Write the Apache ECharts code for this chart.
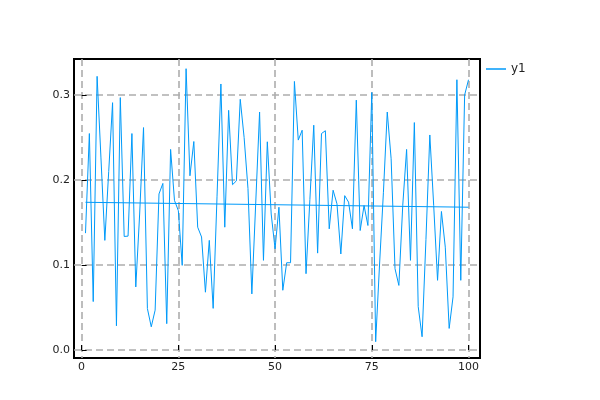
<!DOCTYPE html>
<html>
<head>
<meta charset="utf-8">
<script src="https://cdn.jsdelivr.net/npm/echarts@6/dist/echarts.min.js"></script>
<style>html,body{margin:0;padding:0;background:#fff;}#c{width:600px;height:400px;}</style>
</head>
<body>
<div id="c"></div>
<script>
const xValues = Array.from({length: 100}, (_, i) => i + 1);
const y1 = [
  0.1375, 0.2547, 0.057, 0.322, 0.226, 0.129, 0.21, 0.291, 0.0285, 0.297,
  0.1336, 0.134, 0.2547, 0.0742, 0.16, 0.2617, 0.0488, 0.0273, 0.0469, 0.1836,
  0.196, 0.031, 0.236, 0.176, 0.164, 0.0996, 0.331, 0.205, 0.2453, 0.1445,
  0.133, 0.068, 0.129, 0.049, 0.181, 0.313, 0.1445, 0.282, 0.1945, 0.199,
  0.295, 0.25, 0.19, 0.066, 0.173, 0.28, 0.1055, 0.245, 0.16, 0.119,
  0.168, 0.0703, 0.1027, 0.1027, 0.316, 0.247, 0.2586, 0.0898, 0.177, 0.2645,
  0.114, 0.2547, 0.258, 0.1426, 0.188, 0.172, 0.113, 0.1816, 0.174, 0.1426,
  0.294, 0.1406, 0.17, 0.1465, 0.303, 0.0098, 0.1, 0.185, 0.28, 0.225,
  0.0957, 0.076, 0.17, 0.236, 0.1055, 0.2676, 0.051, 0.0156, 0.13, 0.253,
  0.17, 0.082, 0.163, 0.121, 0.0254, 0.0625, 0.318, 0.082, 0.30, 0.318
];
const trendX = [1, 100];
const trendY = [0.1738, 0.168];
const xTicks = [0, 25, 50, 75, 100];
const yTicks = [0, 0.1, 0.2, 0.3];

const blue = '#009afa';
const gridLine = {show: true, lineStyle: {color: '#adadad', width: 1.6, type: [7, 4]}};
const font = 'DejaVu Sans';

const chart = echarts.init(document.getElementById('c'), null, {renderer: 'canvas'});
chart.setOption({
  animation: false,
  backgroundColor: '#fff',
  grid: {left: 74, top: 59, width: 406, height: 299, show: true, borderColor: '#000', borderWidth: 2, backgroundColor: 'transparent'},
  legend: {
    left: 481, top: 58, orient: 'vertical',
    data: [{name: 'y1', icon: 'rect'}],
    itemWidth: 20, itemHeight: 1.5, itemGap: 5,
    textStyle: {fontFamily: font, fontSize: 12, color: '#222'}
  },
  xAxis: {
    type: 'value', min: -1.97, max: 102.97,
    axisLine: {show: false},
    axisTick: {show: true, inside: true, length: 5, customValues: xTicks, lineStyle: {color: '#000', width: 1}},
    axisLabel: {customValues: xTicks, fontFamily: font, fontSize: 11, color: '#222', margin: 4},
    splitLine: gridLine
  },
  yAxis: {
    type: 'value', min: -0.0094, max: 0.3424,
    axisLine: {show: false},
    axisTick: {show: true, inside: true, length: 5, customValues: yTicks, lineStyle: {color: '#000', width: 1}},
    axisLabel: {customValues: yTicks, fontFamily: font, fontSize: 11, color: '#222', margin: 4,
      formatter: v => v.toFixed(1)},
    splitLine: gridLine
  },
  series: [
    {name: 'y1', type: 'line', data: xValues.map((x, i) => [x, y1[i]]), showSymbol: false,
     lineStyle: {color: blue, width: 1}, itemStyle: {color: blue}, z: 3},
    {name: 'trend', type: 'line', data: trendX.map((x, i) => [x, trendY[i]]), showSymbol: false,
     lineStyle: {color: blue, width: 1}, itemStyle: {color: blue}, z: 3}
  ]
});
</script>
</body>
</html>
